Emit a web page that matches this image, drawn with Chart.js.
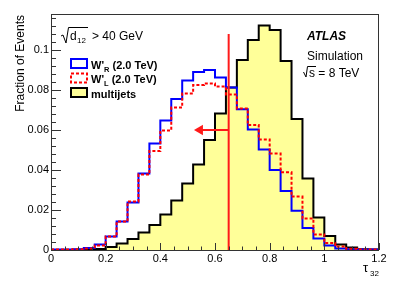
<!DOCTYPE html>
<html>
<head>
<meta charset="utf-8">
<script src="https://cdn.jsdelivr.net/npm/chart.js@4.4.1/dist/chart.umd.min.js"></script>
<style>
  html, body { margin: 0; padding: 0; background: #fff; }
  #wrap { width: 399px; height: 288px; }
</style>
</head>
<body>
<div id="wrap"><canvas id="tauChart" width="399" height="288"></canvas></div>
<script>
'use strict';

// tau32 bin edges (0.04 wide)
const binEdges = [0, 0.04, 0.08, 0.12, 0.16, 0.2, 0.24, 0.28, 0.32, 0.36, 0.4, 0.44, 0.48, 0.52, 0.56,
    0.6, 0.64, 0.68, 0.72, 0.76, 0.8, 0.84, 0.88, 0.92, 0.96, 1.0, 1.04, 1.08, 1.12, 1.16, 1.2];

const multijets = [0, 0, 0.0001, 0.0002, 0.0005, 0.0015, 0.0032, 0.0055, 0.0088, 0.0125,
    0.0177, 0.0248, 0.0333, 0.0427, 0.055, 0.0683, 0.0813, 0.095, 0.105, 0.1122,
    0.110, 0.0945, 0.0655, 0.0358, 0.0162, 0.007, 0.0028, 0.0012, 0.0004, 0.0002];

const wPrimeR = [0.0002, 0.0002, 0.0004, 0.001, 0.0027, 0.0067, 0.0142, 0.0238, 0.0383, 0.0533,
    0.0647, 0.0755, 0.0848, 0.089, 0.090, 0.0862, 0.0812, 0.0704, 0.0603, 0.0502,
    0.040, 0.0295, 0.0196, 0.011, 0.0058, 0.0023, 0.0007, 0.0004, 0.0002, 0.0002];

const wPrimeL = [0.0002, 0.0002, 0.0004, 0.0008, 0.0022, 0.0067, 0.0142, 0.0242, 0.0377, 0.0495,
    0.0597, 0.0712, 0.0783, 0.0825, 0.0833, 0.0817, 0.0778, 0.0708, 0.0625, 0.0553,
    0.0482, 0.0389, 0.0267, 0.0157, 0.0078, 0.0035, 0.0017, 0.0006, 0.0003, 0.0002];

const xTicks = [0, 0.2, 0.4, 0.6, 0.8, 1, 1.2];
const yTicks = [0, 0.02, 0.04, 0.06, 0.08, 0.1];

// cut line and arrow
const cutValue = 0.65;
const cutTop = 0.108;
const arrowY = 0.06;
const arrowEnd = 0.545;

const FONT = '"Liberation Sans", Arial, sans-serif';

function toSteps(vals) {
    return binEdges.map((e, i) => ({ x: e, y: vals[Math.min(i, vals.length - 1)] }));
}

// ROOT style ticks inside the frame + text
const decorPlugin = {
    id: 'decor',
    afterDraw(chart) {
        const ctx = chart.ctx;
        const xs = chart.scales.x, ys = chart.scales.y;
        const a = chart.chartArea;
        ctx.save();

        // frame
        ctx.strokeStyle = '#333';
        ctx.lineWidth = 1;
        ctx.strokeRect(a.left + 0.5, a.top + 0.5, a.right - a.left - 1, a.bottom - a.top);

        // x ticks
        ctx.beginPath();
        for (let i = 0; i <= 24; i++) {
            const v = i * 0.05;
            const px = Math.round(xs.getPixelForValue(v)) + 0.5;
            const len = (i % 4 === 0) ? 7 : 3.5;
            ctx.moveTo(px, a.bottom);
            ctx.lineTo(px, a.bottom - len);
        }
        // y ticks
        for (let i = 0; i <= 29; i++) {
            const v = i * 0.004;
            const py = Math.round(ys.getPixelForValue(v)) + 0.5;
            const len = (i % 5 === 0) ? 10 : 5;
            ctx.moveTo(a.left, py);
            ctx.lineTo(a.left + len, py);
        }
        ctx.stroke();

        ctx.fillStyle = '#000';
        ctx.textBaseline = 'alphabetic';

        // y title
        ctx.save();
        ctx.translate(24, 15);
        ctx.rotate(-Math.PI / 2);
        ctx.textAlign = 'right';
        ctx.font = '12px ' + FONT;
        ctx.fillText('Fraction of Events', 0, 0);
        ctx.restore();

        // x title tau_32
        ctx.textAlign = 'left';
        ctx.font = '13px ' + FONT;
        ctx.fillText('\u03c4', 363, 272);
        ctx.font = '8px ' + FONT;
        ctx.fillText('32', 370, 276);

        // sqrt(d12) > 40 GeV
        ctx.strokeStyle = '#000';
        ctx.lineWidth = 1;
        ctx.beginPath();
        ctx.moveTo(61, 36);
        ctx.lineTo(63, 35);
        ctx.lineTo(66, 43);
        ctx.lineTo(68.5, 27.5);
        ctx.lineTo(88, 27.5);
        ctx.stroke();
        ctx.font = '12px ' + FONT;
        ctx.fillText('d', 70, 40);
        ctx.font = '8px ' + FONT;
        ctx.fillText('12', 77, 43);
        ctx.font = '12px ' + FONT;
        ctx.fillText('> 40 GeV', 92, 40);

        // ATLAS labels
        ctx.font = 'italic bold 12px ' + FONT;
        ctx.fillText('ATLAS', 307, 40);
        ctx.font = '12px ' + FONT;
        ctx.fillText('Simulation', 307, 60);
        ctx.beginPath();
        ctx.moveTo(303.5, 72);
        ctx.lineTo(306, 77);
        ctx.lineTo(307.5, 66.5);
        ctx.lineTo(316, 66.5);
        ctx.stroke();
        ctx.fillText('s = 8 TeV', 309, 77);

        // legend
        const rows = [
            { label: 'W\'', sub: 'R', rest: ' (2.0 TeV)', stroke: '#0000ff', dash: [], fill: null, base: 68.5 },
            { label: 'W\'', sub: 'L', rest: ' (2.0 TeV)', stroke: '#ff0000', dash: [3, 2], fill: null, base: 83 },
            { label: 'multijets', sub: '', rest: '', stroke: '#000', dash: [], fill: '#ffff99', base: 97.5 }
        ];
        rows.forEach(r => {
            const top = r.base - 9.5;
            if (r.fill) {
                ctx.fillStyle = r.fill;
                ctx.fillRect(71, top, 16, 9);
            }
            ctx.strokeStyle = r.stroke;
            ctx.lineWidth = 2;
            ctx.setLineDash(r.dash);
            ctx.strokeRect(71, top, 16, 9);
            ctx.setLineDash([]);
            ctx.fillStyle = '#000';
            ctx.font = 'bold 11px ' + FONT;
            let x = 91;
            ctx.fillText(r.label, x, r.base);
            x += ctx.measureText(r.label).width;
            if (r.sub) {
                ctx.font = 'bold 7.5px ' + FONT;
                ctx.fillText(r.sub, x, r.base + 3);
                x += ctx.measureText(r.sub).width;
                ctx.font = 'bold 11px ' + FONT;
                ctx.fillText(r.rest, x, r.base);
            }
        });

        ctx.restore();
    }
};

const ctx = document.getElementById('tauChart').getContext('2d');

const chart = new Chart(ctx, {
    type: 'line',
    data: {
        datasets: [
            {
                // cut line
                data: [{ x: cutValue, y: 0 }, { x: cutValue, y: cutTop }],
                borderColor: '#ff1a1a',
                borderWidth: 2,
                pointRadius: 0,
                order: 0
            },
            {
                // arrow
                data: [{ x: cutValue, y: arrowY }, { x: arrowEnd, y: arrowY }],
                borderColor: '#ff1a1a',
                backgroundColor: '#ff1a1a',
                borderWidth: 2,
                pointStyle: 'triangle',
                pointRadius: [0, 6],
                pointBorderWidth: 0,
                rotation: -90,
                order: 0
            },
            {
                label: "W'L (2.0 TeV)",
                data: toSteps(wPrimeL),
                stepped: true,
                borderColor: '#ff0000',
                borderWidth: 2,
                borderDash: [3, 2],
                pointRadius: 0,
                fill: false,
                order: 1
            },
            {
                label: "W'R (2.0 TeV)",
                data: toSteps(wPrimeR),
                stepped: true,
                borderColor: '#0000ff',
                borderWidth: 2,
                pointRadius: 0,
                fill: false,
                order: 2
            },
            {
                label: 'multijets',
                data: toSteps(multijets),
                stepped: true,
                borderColor: '#000',
                backgroundColor: '#ffff99',
                borderWidth: 2,
                pointRadius: 0,
                fill: 'origin',
                order: 3
            }
        ]
    },
    options: {
        responsive: false,
        animation: false,
        devicePixelRatio: 1,
        layout: { padding: { top: 14, right: 20, left: 0, bottom: 0 } },
        plugins: {
            legend: { display: false },
            tooltip: { enabled: false }
        },
        scales: {
            x: {
                type: 'linear',
                min: 0,
                max: 1.2,
                afterBuildTicks: s => { s.ticks = xTicks.map(v => ({ value: v })); },
                afterFit: s => { s.height = 38; },
                grid: { display: false, drawTicks: false },
                border: { display: false },
                ticks: {
                    color: '#000',
                    padding: 2,
                    maxRotation: 0,
                    font: { family: FONT, size: 11 },
                    callback: v => String(+Number(v).toFixed(2))
                }
            },
            y: {
                min: 0,
                max: 0.118,
                afterBuildTicks: s => { s.ticks = yTicks.map(v => ({ value: v })); },
                afterFit: s => { s.width = 51; },
                grid: { display: false, drawTicks: false },
                border: { display: false },
                ticks: {
                    color: '#000',
                    padding: 2,
                    font: { family: FONT, size: 11 },
                    callback: v => String(+Number(v).toFixed(2))
                }
            }
        }
    },
    plugins: [decorPlugin]
});
</script>
</body>
</html>
